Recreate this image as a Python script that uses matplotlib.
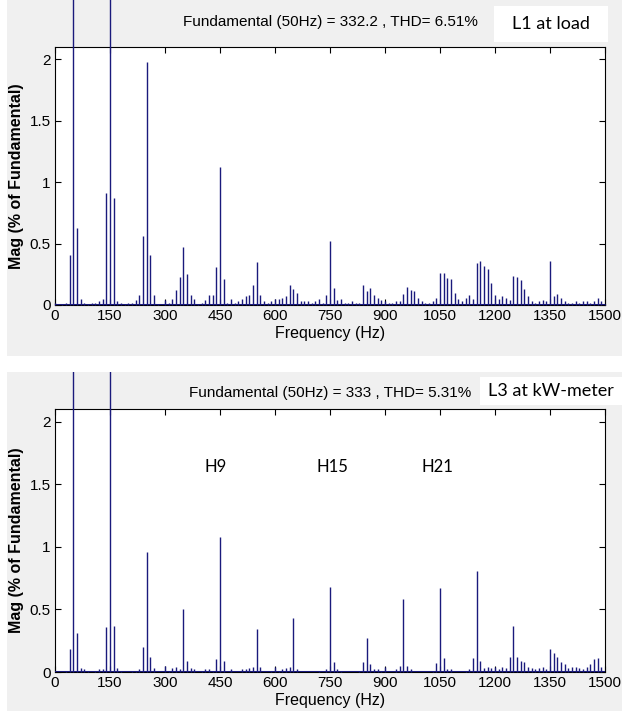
import numpy as np
import matplotlib.pyplot as plt
from matplotlib.patches import Rectangle

# harmonic spectrum, 10 Hz bins from 0 to 1500 Hz (% of fundamental)
freq = np.arange(0, 1510, 10)

mag_l1 = [0.02, 0.0, 0.01, 0.02, 0.41, 100.0, 0.63, 0.05, 0.02, 0.01,
          0.02, 0.02, 0.03, 0.05, 0.91, 5.8, 0.87, 0.03, 0.02, 0.01,
          0.02, 0.02, 0.04, 0.08, 0.56, 1.98, 0.41, 0.08, 0.01, 0.0,
          0.04, 0.02, 0.05, 0.12, 0.23, 0.47, 0.25, 0.08, 0.05, 0.01,
          0.02, 0.04, 0.08, 0.08, 0.31, 1.12, 0.21, 0.02, 0.05, 0.02,
          0.03, 0.05, 0.07, 0.08, 0.16, 0.35, 0.08, 0.03, 0.02, 0.03,
          0.05, 0.05, 0.06, 0.07, 0.16, 0.13, 0.10, 0.03, 0.03, 0.03,
          0.02, 0.03, 0.05, 0.02, 0.08, 0.52, 0.14, 0.04, 0.05, 0.02,
          0.02, 0.03, 0.02, 0.02, 0.16, 0.11, 0.135, 0.08, 0.06, 0.04,
          0.03, 0.02, 0.02, 0.03, 0.03, 0.09, 0.145, 0.12, 0.11, 0.06,
          0.03, 0.02, 0.02, 0.03, 0.06, 0.26, 0.26, 0.22, 0.21, 0.10,
          0.05, 0.03, 0.06, 0.08, 0.05, 0.34, 0.36, 0.32, 0.29, 0.18,
          0.08, 0.05, 0.07, 0.06, 0.04, 0.24, 0.23, 0.20, 0.13, 0.07,
          0.03, 0.02, 0.03, 0.04, 0.03, 0.36, 0.07, 0.09, 0.06, 0.03,
          0.02, 0.02, 0.03, 0.02, 0.03, 0.03, 0.02, 0.03, 0.06, 0.03,
          0.01]

mag_l3 = [0.0, 0.0, 0.0, 0.01, 0.18, 100.0, 0.315, 0.03, 0.02, 0.01,
          0.0, 0.01, 0.02, 0.02, 0.36, 4.9, 0.37, 0.03, 0.01, 0.0,
          0.0, 0.01, 0.01, 0.02, 0.20, 0.96, 0.12, 0.03, 0.0, 0.0,
          0.05, 0.01, 0.03, 0.04, 0.02, 0.50, 0.09, 0.03, 0.02, 0.0,
          0.01, 0.02, 0.02, 0.01, 0.10, 1.08, 0.09, 0.0, 0.02, 0.0,
          0.0, 0.02, 0.02, 0.03, 0.04, 0.34, 0.04, 0.0, 0.0, 0.01,
          0.04, 0.01, 0.02, 0.03, 0.04, 0.43, 0.02, 0.0, 0.0, 0.0,
          0.0, 0.0, 0.01, 0.0, 0.02, 0.68, 0.08, 0.02, 0.01, 0.0,
          0.0, 0.0, 0.0, 0.01, 0.08, 0.27, 0.06, 0.02, 0.02, 0.01,
          0.04, 0.0, 0.0, 0.02, 0.05, 0.58, 0.05, 0.02, 0.0, 0.0,
          0.0, 0.0, 0.0, 0.01, 0.07, 0.67, 0.11, 0.02, 0.02, 0.0,
          0.0, 0.0, 0.01, 0.02, 0.11, 0.81, 0.09, 0.03, 0.04, 0.03,
          0.04, 0.02, 0.04, 0.03, 0.12, 0.37, 0.12, 0.09, 0.08, 0.04,
          0.03, 0.02, 0.03, 0.04, 0.02, 0.18, 0.15, 0.12, 0.08, 0.06,
          0.03, 0.04, 0.04, 0.03, 0.02, 0.04, 0.06, 0.10, 0.11, 0.04,
          0.0]

titles = ['Fundamental (50Hz) = 332.2 , THD= 6.51%',
          'Fundamental (50Hz) = 333 , THD= 5.31%']
tags = ['L1 at load', 'L3 at kW-meter']
xticks = [0, 150, 300, 450, 600, 750, 900, 1050, 1200, 1350, 1500]
yticks = [0, 0.5, 1, 1.5, 2]
h_labels = ['H9', 'H15', 'H21']
h_freqs = [437, 758, 1042]

W, H = 622, 711
fig = plt.figure(figsize=(W / 100, H / 100), dpi=100)
fig.patch.set_facecolor('white')

narrow = ['Liberation Sans Narrow', 'Liberation Sans', 'DejaVu Sans']
calib = ['Lato', 'Open Sans', 'DejaVu Sans']
navy = '#1a1a7c'

def px(x0, y0, x1, y1):
    # pixel box -> figure fraction rect
    return [x0 / W, 1 - y1 / H, (x1 - x0) / W, (y1 - y0) / H]

panels = [
    dict(bg=(7, 0, 622, 356), ax=(55, 47, 605, 305), tag=(494, 6, 608, 42), title_y=22),
    dict(bg=(7, 372, 622, 711), ax=(55, 409, 605, 672), tag=(480, 377, 622, 405), title_y=393),
]

for i, (p, mag) in enumerate(zip(panels, [mag_l1, mag_l3])):
    bx = px(*p['bg'])
    bg = Rectangle((bx[0], bx[1]), bx[2], bx[3], transform=fig.transFigure,
                   facecolor='#f0f0f0', edgecolor='none', zorder=-1)
    fig.patches.append(bg)

    ax = fig.add_axes(px(*p['ax']), zorder=1)
    ax.set_facecolor('white')
    ax.set_xlim(0, 1500)
    ax.set_ylim(0, 2.1)
    lines = ax.vlines(freq, 0, mag, colors=navy, linewidth=1.0, zorder=3)
    lines.set_clip_path(bg)
    ax.axhline(0, color=navy, linewidth=2.2, zorder=4)

    ax.set_xticks(xticks)
    ax.set_yticks(yticks)
    ax.set_yticklabels(['0', '0.5', '1', '1.5', '2'])
    ax.tick_params(direction='in', top=True, right=True, length=4, width=0.8,
                   labelsize=11, pad=3)
    for lab in ax.get_xticklabels() + ax.get_yticklabels():
        lab.set_family(narrow)
    for s in ax.spines.values():
        s.set_linewidth(0.8)
    ax.set_xlabel('Frequency (Hz)', family=narrow, fontsize=11.5, labelpad=2)
    ax.set_ylabel('Mag (% of Fundamental)', family=narrow, fontsize=11.5,
                  fontweight='bold', labelpad=4)

    fig.text(330 / W, 1 - p['title_y'] / H, titles[i], family=narrow, fontsize=11,
             ha='center', va='center')

    tb = px(*p['tag'])
    fig.patches.append(Rectangle((tb[0], tb[1]), tb[2], tb[3], transform=fig.transFigure,
                                 facecolor='white', edgecolor='none', zorder=3))
    fig.text(tb[0] + tb[2] / 2, tb[1] + tb[3] / 2, tags[i], family=calib, fontsize=13,
             ha='center', va='center', zorder=4)

    if i == 1:
        for lab, f in zip(h_labels, h_freqs):
            ax.text(f, 1.64, lab, family=calib, fontsize=12, ha='center', va='center')

fig.savefig('out.png', dpi=100)
